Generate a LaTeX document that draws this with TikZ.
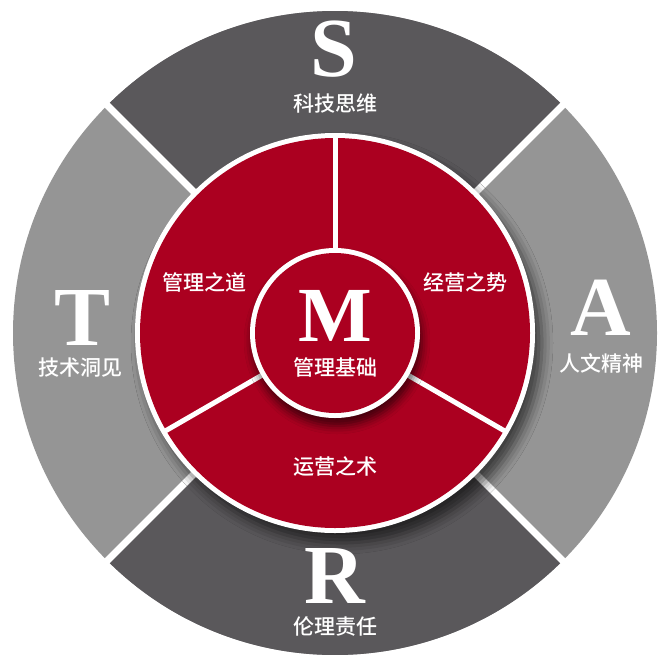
\documentclass[tikz,border=0pt]{standalone}
\usepackage{fontspec}
\newfontfamily\cjk{Noto Sans CJK SC}[UprightFont={* Medium}]
\newfontfamily\letterfont{Liberation Serif}
\usetikzlibrary{shadows.blur}
\definecolor{ringdark}{HTML}{5A585B}
\definecolor{ringlight}{HTML}{959595}
\definecolor{coreRed}{HTML}{AB0020}
\tikzset{
  bigletter/.style={text=white, anchor=base, inner sep=0pt, text depth=0pt, font=\letterfont\bfseries\fontsize{84}{84}\selectfont},
  midletter/.style={text=white, anchor=base, inner sep=0pt, text depth=0pt, font=\letterfont\bfseries\fontsize{78}{78}\selectfont},
  cjklabel/.style={text=white, anchor=base, inner sep=0pt, text height=16pt, text depth=1pt, font=\cjk\fontsize{21}{21}\selectfont},
  divider/.style={draw=white, line width=7pt},
  reddivider/.style={draw=white, line width=5pt}
}
\begin{document}
\begin{tikzpicture}[x=1pt,y=1pt]
\useasboundingbox (0,-654) rectangle (658,0);
\coordinate (c) at (335,-333);
% outer ring
\fill[ringlight] (c) circle (322);
\fill[ringdark] (c) -- ++(45:322) arc (45:135:322) -- cycle;
\fill[ringdark] (c) -- ++(225:322) arc (225:315:322) -- cycle;
\foreach \a in {45,135,225,315} \draw[divider] (c) -- ++(\a:330);
% red ring
\fill[white, blur shadow={shadow xshift=7pt, shadow yshift=-10pt, shadow blur radius=11pt, shadow opacity=60}] (c) circle (200);
\fill[coreRed] (c) circle (195);
\foreach \a in {90,210,330} \draw[reddivider] (c) -- ++(\a:197);
% inner circle
\fill[white, blur shadow={shadow xshift=2pt, shadow yshift=-8pt, shadow blur radius=8pt, shadow opacity=60}] (c) circle (85);
\fill[coreRed] (c) circle (80);
% letters
\node[bigletter] (S) at (334,-76) {S};
\node[bigletter] (T) at (83,-345) {T};
\node[bigletter] (A) at (601,-335) {A};
\node[bigletter] (R) at (335,-603) {R};
\node[midletter] (M) at (335,-341) {M};
% labels
\node[cjklabel] (s) at (335,-111) {科技思维};
\node[cjklabel] (t) at (80,-375) {技术洞见};
\node[cjklabel] (a) at (601,-371) {人文精神};
\node[cjklabel] (r) at (335,-634) {伦理责任};
\node[cjklabel] (m) at (335,-375) {管理基础};
\node[cjklabel] (dao) at (204,-290) {管理之道};
\node[cjklabel] (shi) at (465,-290) {经营之势};
\node[cjklabel] (shu) at (335,-474) {运营之术};
\end{tikzpicture}
\end{document}
